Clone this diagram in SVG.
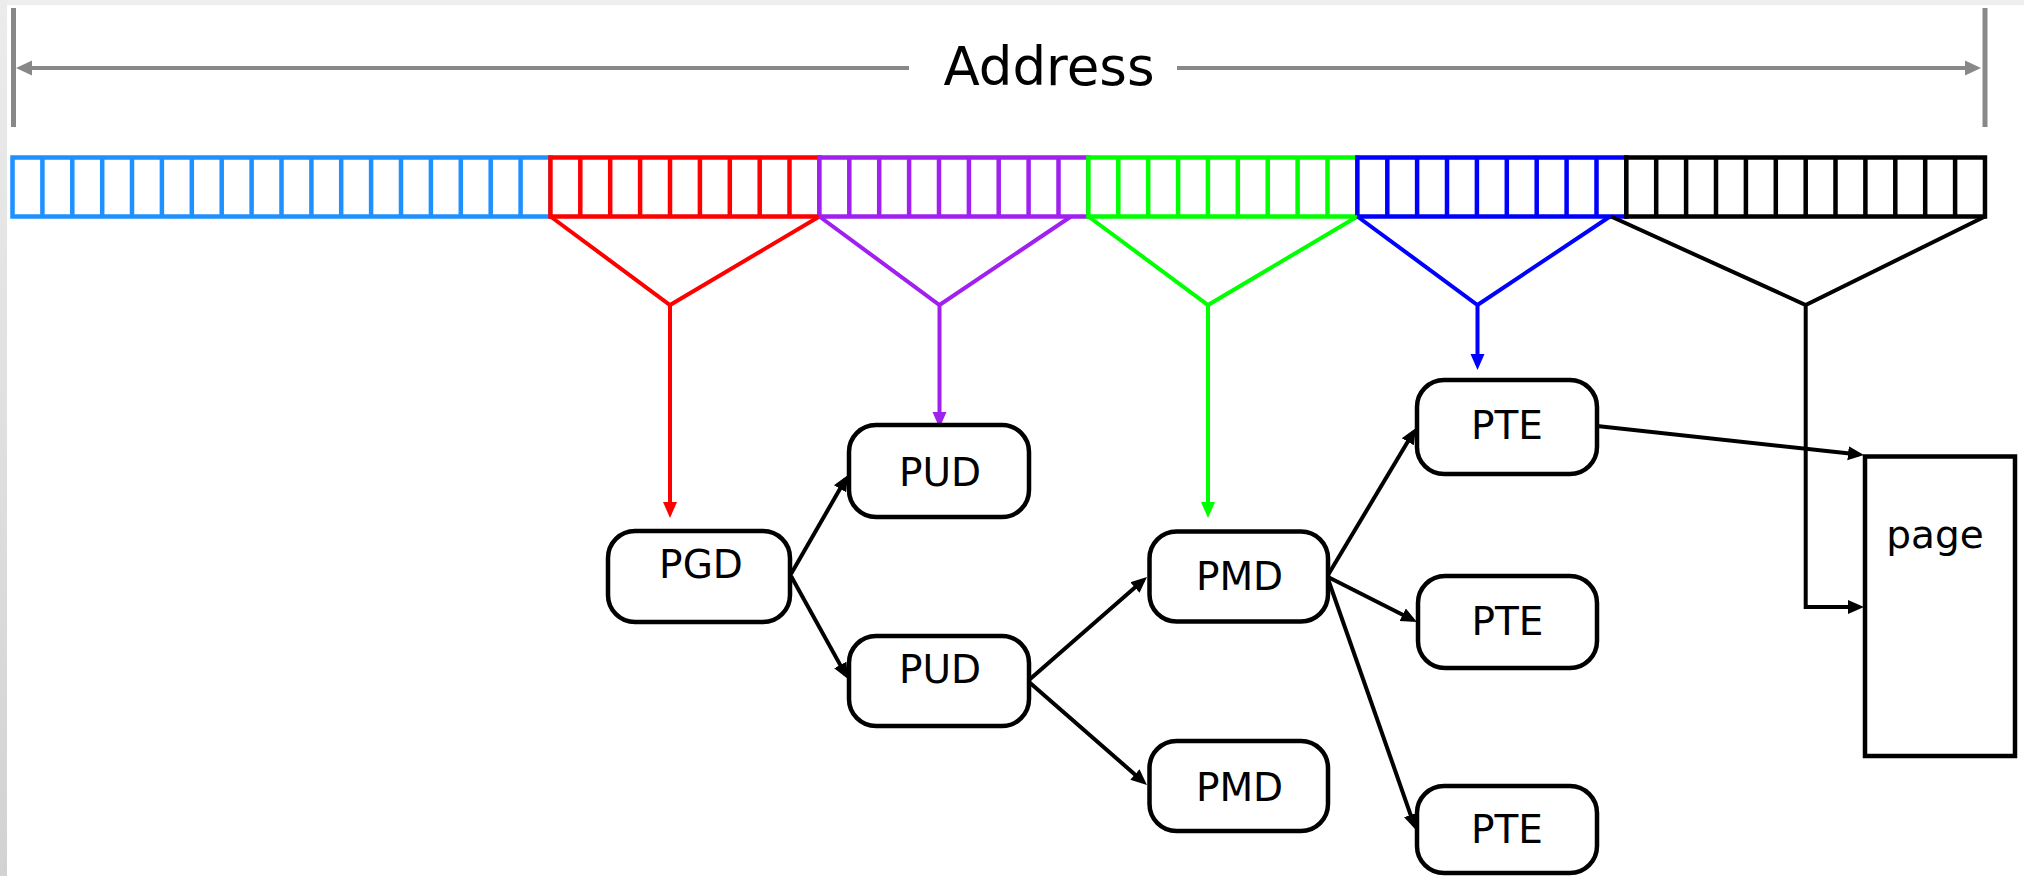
<svg xmlns="http://www.w3.org/2000/svg" width="2024" height="876" viewBox="0 0 2024 876">
<style>
.cell{fill:#fff;stroke-width:4.5}
.div{fill:none;stroke-width:4.5}
.node rect{fill:#fff;stroke:#000;stroke-width:4.5}
.node text{font-family:"DejaVu Sans","Liberation Sans",sans-serif;font-size:39px;fill:#000;text-anchor:middle}
.conn{fill:none;stroke-width:4}
</style>
<defs>
<linearGradient id="edge" x1="0" y1="0" x2="0" y2="1">
<stop offset="0" stop-color="#ececec"/>
<stop offset="1" stop-color="#d2d2d2"/>
</linearGradient>
<marker id="aBlack" viewBox="0 0 16 16" markerWidth="16" markerHeight="16" markerUnits="userSpaceOnUse" refX="11" refY="8" orient="auto"><path d="M0,1 L16,8 L0,15 z" fill="#000"/></marker>
<marker id="aRed" viewBox="0 0 16 16" markerWidth="16" markerHeight="16" markerUnits="userSpaceOnUse" refX="11" refY="8" orient="auto"><path d="M0,1 L16,8 L0,15 z" fill="#ff0000"/></marker>
<marker id="aPurple" viewBox="0 0 16 16" markerWidth="16" markerHeight="16" markerUnits="userSpaceOnUse" refX="11" refY="8" orient="auto"><path d="M0,1 L16,8 L0,15 z" fill="#a020f0"/></marker>
<marker id="aGreen" viewBox="0 0 16 16" markerWidth="16" markerHeight="16" markerUnits="userSpaceOnUse" refX="11" refY="8" orient="auto"><path d="M0,1 L16,8 L0,15 z" fill="#00ff00"/></marker>
<marker id="aBlue" viewBox="0 0 16 16" markerWidth="16" markerHeight="16" markerUnits="userSpaceOnUse" refX="11" refY="8" orient="auto"><path d="M0,1 L16,8 L0,15 z" fill="#0000ff"/></marker>
<marker id="aGray" viewBox="0 0 16 16" markerWidth="16" markerHeight="16" markerUnits="userSpaceOnUse" refX="11" refY="8" orient="auto"><path d="M0,0.5 L16,8 L0,15.5 z" fill="#888"/></marker>
</defs>
<rect x="0" y="0" width="2024" height="876" fill="#fff"/>
<rect x="0" y="0" width="2024" height="5" fill="#eeeeee"/>
<rect x="0" y="0" width="7" height="876" fill="url(#edge)"/>

<g id="address-ruler">
<path d="M13.5,8 V127 M1985,8 V127" stroke="#888" stroke-width="5" fill="none"/>
<path d="M909,68 H21" stroke="#888" stroke-width="4" fill="none" marker-end="url(#aGray)"/>
<path d="M1177,68 H1976" stroke="#888" stroke-width="4" fill="none" marker-end="url(#aGray)"/>
<text x="1049" y="85" font-family="'DejaVu Sans','Liberation Sans',sans-serif" font-size="53" text-anchor="middle" fill="#000">Address</text>
</g>

<g id="address-bits">
<rect class="cell" x="12.5" y="157.5" width="537.95" height="59" stroke="#1e90ff"/>
<path class="div" stroke="#1e90ff" d="M42.4,157.5V216.5M72.3,157.5V216.5M102.2,157.5V216.5M132,157.5V216.5M161.9,157.5V216.5M191.8,157.5V216.5M221.7,157.5V216.5M251.6,157.5V216.5M281.5,157.5V216.5M311.4,157.5V216.5M341.2,157.5V216.5M371.1,157.5V216.5M401,157.5V216.5M430.9,157.5V216.5M460.8,157.5V216.5M490.7,157.5V216.5M520.6,157.5V216.5"/>
<rect class="cell" x="550.45" y="157.5" width="268.97" height="59" stroke="#ff0000"/>
<path class="div" stroke="#ff0000" d="M580.3,157.5V216.5M610.2,157.5V216.5M640.1,157.5V216.5M670,157.5V216.5M699.9,157.5V216.5M729.8,157.5V216.5M759.7,157.5V216.5M789.5,157.5V216.5"/>
<rect class="cell" x="819.42" y="157.5" width="268.98" height="59" stroke="#a020f0"/>
<path class="div" stroke="#a020f0" d="M849.3,157.5V216.5M879.2,157.5V216.5M909.1,157.5V216.5M939,157.5V216.5M968.9,157.5V216.5M998.7,157.5V216.5M1028.6,157.5V216.5M1058.5,157.5V216.5"/>
<rect class="cell" x="1088.4" y="157.5" width="268.97" height="59" stroke="#00ff00"/>
<path class="div" stroke="#00ff00" d="M1118.3,157.5V216.5M1148.2,157.5V216.5M1178.1,157.5V216.5M1207.9,157.5V216.5M1237.8,157.5V216.5M1267.7,157.5V216.5M1297.6,157.5V216.5M1327.5,157.5V216.5"/>
<rect class="cell" x="1357.37" y="157.5" width="268.97" height="59" stroke="#0000ff"/>
<path class="div" stroke="#0000ff" d="M1387.3,157.5V216.5M1417.1,157.5V216.5M1447,157.5V216.5M1476.9,157.5V216.5M1506.8,157.5V216.5M1536.7,157.5V216.5M1566.6,157.5V216.5M1596.5,157.5V216.5"/>
<rect class="cell" x="1626.34" y="157.5" width="358.64" height="59" stroke="#000"/>
<path class="div" stroke="#000" d="M1656.2,157.5V216.5M1686.1,157.5V216.5M1716,157.5V216.5M1745.9,157.5V216.5M1775.8,157.5V216.5M1805.7,157.5V216.5M1835.5,157.5V216.5M1865.4,157.5V216.5M1895.3,157.5V216.5M1925.2,157.5V216.5M1955.1,157.5V216.5"/>
</g>

<g id="connectors">
<path class="conn" stroke="#ff0000" d="M550.5,216.5 L670,305 L819.4,216.5 M670,305 V513" marker-end="url(#aRed)"/>
<path class="conn" stroke="#a020f0" d="M819.4,216.5 L939.5,305 L1071,216.5 M939.5,305 V423" marker-end="url(#aPurple)"/>
<path class="conn" stroke="#00ff00" d="M1088.4,216.5 L1208,305 L1357.4,216.5 M1208,305 V513" marker-end="url(#aGreen)"/>
<path class="conn" stroke="#0000ff" d="M1357.4,216.5 L1477.5,305 L1610,216.5 M1477.5,305 V365" marker-end="url(#aBlue)"/>
<path class="conn" stroke="#000" d="M1611,216.5 L1805.7,305 L1985,216.5 M1805.7,305 V607 H1859" marker-end="url(#aBlack)"/>
<path class="conn" stroke="#000" d="M791,574 L845.5,479.3" marker-end="url(#aBlack)"/>
<path class="conn" stroke="#000" d="M791,576 L845.6,674.6" marker-end="url(#aBlack)"/>
<path class="conn" stroke="#000" d="M1029,680 L1143.2,580.3" marker-end="url(#aBlack)"/>
<path class="conn" stroke="#000" d="M1029,682 L1143.2,781.7" marker-end="url(#aBlack)"/>
<path class="conn" stroke="#000" d="M1328,575 L1413.4,432.3" marker-end="url(#aBlack)"/>
<path class="conn" stroke="#000" d="M1328,577 L1412.5,619.7" marker-end="url(#aBlack)"/>
<path class="conn" stroke="#000" d="M1328,579 L1414.3,825.3" marker-end="url(#aBlack)"/>
<path class="conn" stroke="#000" d="M1597,426 L1859,454.5" marker-end="url(#aBlack)"/>
</g>

<g id="node-pgd" class="node"><rect x="608" y="531" width="182" height="91" rx="27"/><text x="701" y="578">PGD</text></g>
<g id="node-pud1" class="node"><rect x="849" y="425" width="180" height="92" rx="27"/><text x="940" y="486">PUD</text></g>
<g id="node-pud2" class="node"><rect x="849" y="636" width="180" height="90" rx="27"/><text x="940" y="683">PUD</text></g>
<g id="node-pmd1" class="node"><rect x="1149.5" y="531.5" width="178.5" height="90" rx="27"/><text x="1239.5" y="590">PMD</text></g>
<g id="node-pmd2" class="node"><rect x="1149.5" y="741" width="178.5" height="90" rx="27"/><text x="1239.5" y="801">PMD</text></g>
<g id="node-pte1" class="node"><rect x="1417" y="380" width="180" height="94" rx="27"/><text x="1507" y="439">PTE</text></g>
<g id="node-pte2" class="node"><rect x="1418" y="576" width="179" height="92" rx="27"/><text x="1507.5" y="635">PTE</text></g>
<g id="node-pte3" class="node"><rect x="1417" y="786" width="180" height="87" rx="27"/><text x="1507" y="843">PTE</text></g>
<g id="node-page" class="node"><rect x="1865" y="456.5" width="150" height="299.5"/><text x="1935" y="548">page</text></g>
</svg>
